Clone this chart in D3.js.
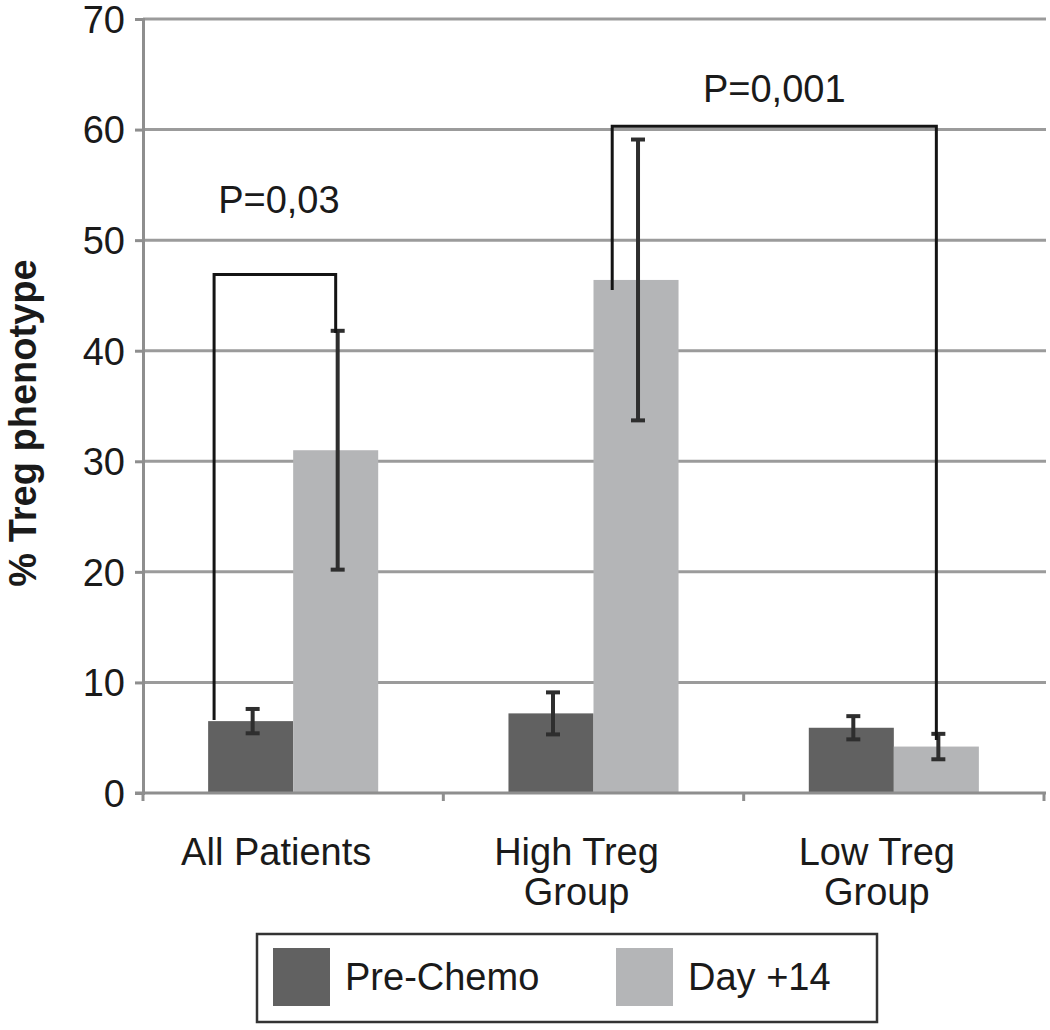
<!DOCTYPE html>
<html><head><meta charset="utf-8">
<script src="https://cdn.jsdelivr.net/npm/d3@7"></script>
<style>
html,body{margin:0;padding:0;background:#fff;}
text{font-family:"Liberation Sans",Arial,Helvetica,sans-serif;fill:#1a1a1a;}
</style></head>
<body>
<svg id="chart" width="1050" height="1030"></svg>
<script>
// ---- data ----
const categories = ["All Patients", "High Treg Group", "Low Treg Group"];
const categoryLines = [["All Patients"], ["High Treg", "Group"], ["Low Treg", "Group"]];
const seriesNames = ["Pre-Chemo", "Day +14"];
const preChemo = [6.5, 7.2, 5.9];
const preChemoErr = [1.1, 1.9, 1.05];
const day14 = [31.0, 46.4, 4.2];
const day14Err = [10.8, 12.7, 1.15];
const yTicks = [0, 10, 20, 30, 40, 50, 60, 70];
const yLabel = "% Treg phenotype";
// significance brackets
const bracketFrom = [["All Patients", "Pre-Chemo", 0.07, 6.6], ["High Treg Group", "Day +14", 0.22, 45.5]];
const bracketTo = [["All Patients", "Day +14", 0.5, 41.6], ["Low Treg Group", "Day +14", 0.5, 4.8]];
const bracketTop = [46.9, 60.3];
const bracketLabels = ["P=0,03", "P=0,001"];
const labelValues = [52.5, 62.5];

// ---- layout ----
const svg = d3.select("#chart");
const pLeft = 143, pRight = 1044, pTop = 19, pBottom = 793;
const colors = {"Pre-Chemo": "#616161", "Day +14": "#b4b5b7"};

const x0 = d3.scaleBand().domain(categories).range([pLeft, pRight]).padding(0);
const x1 = d3.scaleBand().domain(seriesNames).range([0, x0.bandwidth()]).paddingInner(0).paddingOuter(0.766);
const y = d3.scaleLinear().domain([0, 70]).range([pBottom, pTop]);

// gridlines
svg.append("g").selectAll("line").data(yTicks.filter(d => d > 0)).join("line")
  .attr("x1", pLeft).attr("x2", pRight + 2)
  .attr("y1", d => y(d)).attr("y2", d => y(d))
  .attr("stroke", "#9b9b9b").attr("stroke-width", 3);

// y axis
const yAxis = svg.append("g").attr("transform", `translate(${pLeft},0)`)
  .call(d3.axisLeft(y).tickValues(yTicks).tickSize(8).tickPadding(10).tickFormat(d3.format("d")));
yAxis.select(".domain").attr("stroke", "#8e8e8e").attr("stroke-width", 3);
yAxis.selectAll(".tick line").attr("stroke", "#8e8e8e").attr("stroke-width", 3);
yAxis.selectAll(".tick text").attr("font-size", 38).attr("font-family", "Liberation Sans, Arial, sans-serif")
  .attr("fill", "#1a1a1a").attr("dy", "0.35em");

// bars
const rows = categories.map((c, i) => ({cat: c, vals: [
  {s: "Pre-Chemo", v: preChemo[i], e: preChemoErr[i]},
  {s: "Day +14", v: day14[i], e: day14Err[i]}]}));

const groups = svg.append("g").selectAll("g").data(rows).join("g")
  .attr("transform", d => `translate(${x0(d.cat)},0)`);
groups.selectAll("rect").data(d => d.vals).join("rect")
  .attr("x", d => x1(d.s)).attr("width", x1.bandwidth())
  .attr("y", d => y(d.v)).attr("height", d => y(0) - y(d.v))
  .attr("fill", d => colors[d.s]);

// x axis baseline
const xAxis = svg.append("g").attr("transform", `translate(0,${pBottom})`);
xAxis.append("line").attr("x1", pLeft - 8).attr("x2", pRight + 2).attr("y1", 0).attr("y2", 0)
  .attr("stroke", "#8e8e8e").attr("stroke-width", 3);
xAxis.selectAll("line.tk").data(categories.map(c => x0(c)).concat([x0(categories[categories.length-1]) + x0.bandwidth()]))
  .join("line").attr("class", "tk")
  .attr("x1", d => d).attr("x2", d => d).attr("y1", 0).attr("y2", 8)
  .attr("stroke", "#8e8e8e").attr("stroke-width", 3);

// brackets (drawn before error bars)
const bx = (cat, s, f) => x0(cat) + x1(s) + f * x1.bandwidth();
const br = svg.append("g");
bracketFrom.forEach((f, i) => {
  const t = bracketTo[i];
  const xa = bx(f[0], f[1], f[2]), xb = bx(t[0], t[1], t[2]);
  br.append("path")
    .attr("d", `M${xa},${y(f[3])}V${y(bracketTop[i])}H${xb}V${y(t[3])}`)
    .attr("fill", "none").attr("stroke", "#141414").attr("stroke-width", 3);
  br.append("text").attr("x", (xa + xb) / 2 + (i === 0 ? 4 : 0)).attr("y", y(labelValues[i]))
    .attr("text-anchor", "middle").attr("font-size", 38).text(bracketLabels[i]);
});

// error bars
const eb = groups.selectAll("g.err").data(d => d.vals).join("g").attr("class", "err");
const ex = d => x1(d.s) + x1.bandwidth() / 2 + 2;
eb.append("line").attr("x1", ex).attr("x2", ex)
  .attr("y1", d => y(d.v + d.e)).attr("y2", d => y(d.v - d.e))
  .attr("stroke", "#2e2e2e").attr("stroke-width", 4);
[1, -1].forEach(sg => {
  eb.append("line").attr("x1", d => ex(d) - 7).attr("x2", d => ex(d) + 7)
    .attr("y1", d => y(d.v + sg * d.e)).attr("y2", d => y(d.v + sg * d.e))
    .attr("stroke", "#2e2e2e").attr("stroke-width", 4);
});

// category labels
const cl = svg.append("g");
categories.forEach((c, i) => {
  const cx = x0(c) + x0.bandwidth() / 2 - 17;
  const t = cl.append("text").attr("x", cx).attr("y", 865)
    .attr("text-anchor", "middle").attr("font-size", 38);
  categoryLines[i].forEach((ln, j) => {
    t.append("tspan").attr("x", cx).attr("dy", j === 0 ? 0 : 40).text(ln);
  });
});

// y label
svg.append("text").attr("transform", `translate(36,423) rotate(-90)`)
  .attr("text-anchor", "middle").attr("font-size", 38).attr("font-weight", "bold").text(yLabel);

// legend
const lg = svg.append("g");
lg.append("rect").attr("x", 257).attr("y", 934).attr("width", 620).attr("height", 88)
  .attr("fill", "#fff").attr("stroke", "#333").attr("stroke-width", 2.5);
const legX = [273, 616];
seriesNames.forEach((s, i) => {
  lg.append("rect").attr("x", legX[i]).attr("y", 948).attr("width", 57).attr("height", 58).attr("fill", colors[s]);
  lg.append("text").attr("x", legX[i] + 72).attr("y", 990).attr("font-size", 38).text(s);
});
</script>
</body></html>
